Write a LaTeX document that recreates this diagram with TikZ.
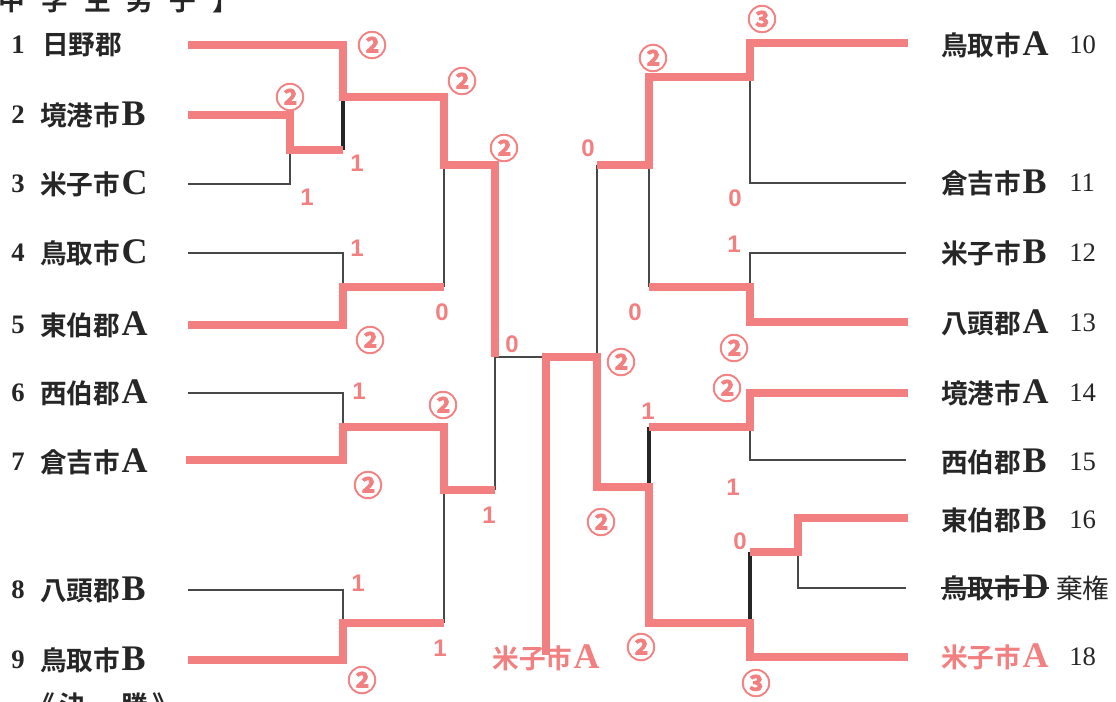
\documentclass[tikz,border=0pt]{standalone}
\usepackage{fontspec}
\usepackage{tikz}
\setmainfont{Liberation Serif}
\newfontfamily\jp{Noto Sans CJK JP}[BoldFont={* Bold}]
\newfontfamily\jpring{Noto Sans CJK JP Bold}[FakeBold=2.5]
\newfontfamily\jphead{Noto Sans CJK JP}[BoldFont={* Bold},LetterSpace=60]
\newfontfamily\jpfoot{Noto Sans CJK JP}[BoldFont={* Bold},LetterSpace=16]
\newfontfamily\scorefont{Liberation Sans}
\definecolor{winpink}{RGB}{243,128,128}
\definecolor{losegray}{RGB}{72,72,72}
\definecolor{inkdark}{RGB}{38,38,38}
% latin letter after a town name
\newcommand\tl[1]{{\rmfamily\bfseries\fontsize{27}{27}\selectfont\kern1pt#1}}

\begin{document}
\begin{tikzpicture}[x=0.75pt,y=0.75pt,yscale=-1,xscale=1,
  win/.style={draw=winpink,line width=6pt},
  lose/.style={draw=losegray,line width=2.2pt},
  team/.style={anchor=west,inner sep=0pt,text=inkdark,font=\jp\bfseries\fontsize{20}{20}\selectfont},
  num/.style={inner sep=0pt,text=inkdark,font=\fontsize{20}{20}\selectfont},
  pts/.style={inner sep=0pt,text=winpink,font=\scorefont\bfseries\fontsize{18}{18}\selectfont},
  ring/.style={inner sep=0pt,text=winpink,font=\jpring\fontsize{22}{22}\selectfont}]
        \useasboundingbox (0,0) rectangle (1116,701);
        \clip (0,0) rectangle (1116,701);
        \fill[white] (0,0) rectangle (1116,701);
        % cut headings
        \node[anchor=base west,inner sep=0pt,text=inkdark,font=\jphead\bfseries\fontsize{20}{20}\selectfont] (head) at (-44,10) {【中学生男子】};
        \node[anchor=north west,inner sep=0pt,text=inkdark,font=\jpfoot\bfseries\fontsize{20}{20}\selectfont] (foot) at (28,692) {《決　勝》};
        % left teams
        \node[num,font=\bfseries\fontsize{20}{20}\selectfont] (n1) at (18,45) {1};
        \node[team] (t1) at (42,45) {日野郡};
        \node[num,font=\bfseries\fontsize{20}{20}\selectfont] (n2) at (18,115) {2};
        \node[team] (t2) at (40,115) {境港市\tl{B}};
        \node[num,font=\bfseries\fontsize{20}{20}\selectfont] (n3) at (18,184) {3};
        \node[team] (t3) at (40,184) {米子市\tl{C}};
        \node[num,font=\bfseries\fontsize{20}{20}\selectfont] (n4) at (18,253) {4};
        \node[team] (t4) at (40,253) {鳥取市\tl{C}};
        \node[num,font=\bfseries\fontsize{20}{20}\selectfont] (n5) at (18,325) {5};
        \node[team] (t5) at (40,325) {東伯郡\tl{A}};
        \node[num,font=\bfseries\fontsize{20}{20}\selectfont] (n6) at (18,393) {6};
        \node[team] (t6) at (40,393) {西伯郡\tl{A}};
        \node[num,font=\bfseries\fontsize{20}{20}\selectfont] (n7) at (18,462) {7};
        \node[team] (t7) at (40,462) {倉吉市\tl{A}};
        \node[num,font=\bfseries\fontsize{20}{20}\selectfont] (n8) at (18,590) {8};
        \node[team] (t8) at (40,590) {八頭郡\tl{B}};
        \node[num,font=\bfseries\fontsize{20}{20}\selectfont] (n9) at (18,660) {9};
        \node[team] (t9) at (40,660) {鳥取市\tl{B}};
        % right teams
        \node[team] (t10) at (941,45) {鳥取市\tl{A}};
        \node[num,anchor=west] (n10) at (1069,45) {10};
        \node[team] (t11) at (941,183) {倉吉市\tl{B}};
        \node[num,anchor=west] (n11) at (1069,183) {11};
        \node[team] (t12) at (941,253) {米子市\tl{B}};
        \node[num,anchor=west] (n12) at (1069,253) {12};
        \node[team] (t13) at (941,323) {八頭郡\tl{A}};
        \node[num,anchor=west] (n13) at (1069,323) {13};
        \node[team] (t14) at (941,393) {境港市\tl{A}};
        \node[num,anchor=west] (n14) at (1069,393) {14};
        \node[team] (t15) at (941,462) {西伯郡\tl{B}};
        \node[num,anchor=west] (n15) at (1069,462) {15};
        \node[team] (t16) at (941,520) {東伯郡\tl{B}};
        \node[num,anchor=west] (n16) at (1069,520) {16};
        \node[team] (t17) at (941,588) {鳥取市\tl{D}};
        \draw[inkdark,line width=1.6pt] (t17.west) -- (t17.east);
        \node[team,font=\jp\fontsize{20}{20}\selectfont] (n17) at (1056,588) {棄権};
        \node[team,text=winpink] (t18) at (941,657) {米子市\tl{A}};
        \node[num,anchor=west] (n18) at (1069,657) {18};
        \node[inner sep=0pt,text=winpink,font=\jp\bfseries\fontsize{20}{20}\selectfont] (champ) at (546,658) {米子市\tl{A}};
        % line ends
        \coordinate (L1) at (188,45);  \coordinate (L2) at (188,115);
        \coordinate (L3) at (188,184); \coordinate (L4) at (188,253);
        \coordinate (L5) at (188,325); \coordinate (L6) at (188,393);
        \coordinate (L7) at (186,460); \coordinate (L8) at (188,590);
        \coordinate (L9) at (188,660);
        \coordinate (R10) at (908,43);  \coordinate (R11) at (906,183);
        \coordinate (R12) at (906,253); \coordinate (R13) at (908,322);
        \coordinate (R14) at (908,393); \coordinate (R15) at (906,460);
        \coordinate (R16) at (908,518); \coordinate (R17) at (906,588);
        \coordinate (R18) at (908,657);
        % losers
        \draw[lose] (L3) -| (290,150);
        \draw[lose,line width=2.6pt,draw=inkdark] (343,97) -- (343,150);
        \draw[lose] (L4) -| (343,287);
        \draw[lose] (444,165) -- (444,287);
        \draw[lose] (L6) -| (343,427);
        \draw[lose] (L8) -| (343,623);
        \draw[lose] (444,490) -- (444,623);
        \draw[lose] (495,490) -- (495,357) -- (545,357);
        \draw[lose] (597,165) -- (597,357);
        \draw[lose] (R11) -| (750,77);
        \draw[lose] (R12) -| (750,287);
        \draw[lose] (649,165) -- (649,287);
        \draw[lose] (R15) -| (750,427);
        \draw[lose,line width=2.6pt,draw=inkdark] (649,427) -- (649,487);
        \draw[lose] (R17) -| (798,552);
        \draw[lose,line width=2.6pt,draw=inkdark] (750,552) -- (750,623);
        % winners
        \draw[win] (L1) -| (343,97) -| (444,165) -| (495,357);
        \draw[win] (L2) -| (290,150) -- (343,150);
        \draw[win] (L5) -| (343,287) -- (444,287);
        \draw[win] (L7) -| (343,427) -| (444,490) -- (495,490);
        \draw[win] (L9) -| (343,623) -- (444,623);
        \draw[win] (R10) -| (750,77) -| (649,165) -- (597,165);
        \draw[win] (R13) -| (750,287) -- (649,287);
        \draw[win] (R14) -| (750,427) -- (649,427);
        \draw[win] (R16) -| (798,552) -- (750,552);
        \draw[win] (R18) -| (750,623) -| (649,487) -| (597,357) -| ([yshift=8pt]champ.north);
        % scores left
        \node[ring] (s1) at (372,45) {②};
        \node[ring] (s2) at (290,97) {②};
        \node[pts] (s3) at (307,197) {1};
        \node[pts] (s23) at (357,163) {1};
        \node[pts] (s4) at (357,248) {1};
        \node[ring] (s5) at (370,340) {②};
        \node[pts] (s6) at (359,391) {1};
        \node[ring] (s7) at (368,485) {②};
        \node[pts] (s8) at (358,583) {1};
        \node[ring] (s9) at (362,680) {②};
        \node[ring] (q1) at (462,81) {②};
        \node[pts] (q2) at (442,312) {0};
        \node[ring] (q3) at (443,405) {②};
        \node[pts] (q4) at (440,648) {1};
        \node[ring] (f1) at (504,148) {②};
        \node[pts] (f2) at (489,515) {1};
        \node[pts] (fin1) at (512,344) {0};
        \node[ring] (fin2) at (621,362) {②};
        % scores right
        \node[pts] (f3) at (588,148) {0};
        \node[ring] (f4) at (601,522) {②};
        \node[ring] (q5) at (653,58) {②};
        \node[pts] (q6) at (635,312) {0};
        \node[pts] (q7) at (648,411) {1};
        \node[ring] (q8) at (641,647) {②};
        \node[ring] (s10) at (762,19) {③};
        \node[pts] (s11) at (735,198) {0};
        \node[pts] (s12) at (734,244) {1};
        \node[ring] (s13) at (734,348) {②};
        \node[ring] (s14) at (727,388) {②};
        \node[pts] (s15) at (733,487) {1};
        \node[pts] (s16) at (740,541) {0};
        \node[ring] (s18) at (756,683) {③};
\end{tikzpicture}
\end{document}
